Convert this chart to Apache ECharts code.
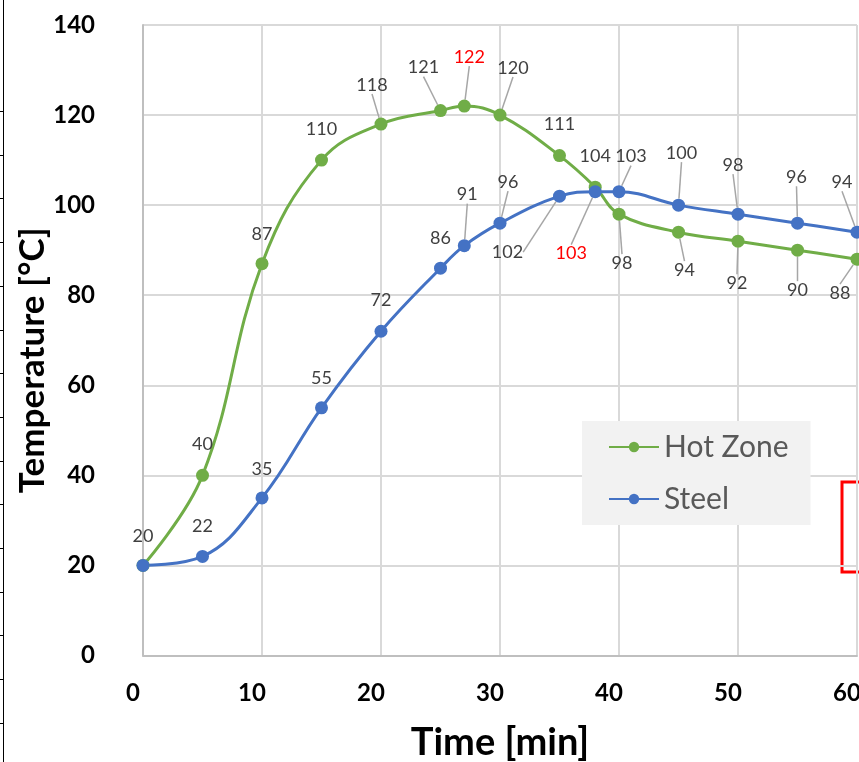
<!DOCTYPE html>
<html lang="en">
<head>
    <meta charset="UTF-8">
    <script src="https://cdn.jsdelivr.net/npm/echarts@6.0.0/dist/echarts.min.js"></script>
    <title>Temperature</title>
    <style>
        html, body { margin: 0; padding: 0; background: #fff; }
    </style>
</head>
<body>
    <div id="chart" style="width: 859px;height:762px;"></div>
    <script>
        // data
        var times = [0, 5, 10, 15, 20, 25, 27, 30, 35, 38, 40, 45, 50, 55, 60];
        var hotZone = [20, 40, 87, 110, 118, 121, 122, 120, 111, 104, 98, 94, 92, 90, 88];
        var steel = [20, 22, 35, 55, 72, 86, 91, 96, 102, 103, 103, 100, 98, 96, 94];
        var xTicks = [0, 10, 20, 30, 40, 50, 60];
        var yTicks = [0, 20, 40, 60, 80, 100, 120, 140];

        // where each value label sits relative to its point [dx, dy, leader line]
        var hotLabelPos = [
            [0, -29, 0], [0, -31, 0], [0, -30, 0], [0, -31, 0], [-9, -39, 1],
            [-17, -43, 1], [5, -49, 1], [13, -47, 1], [0, -31, 0], [0, -31, 0],
            [3, 49, 1], [6, 38, 1], [-1, 42, 1], [0, 40, 1], [-17, 34, 1]
        ];
        var steelLabelPos = [
            null, [0, -30, 0], [0, -29, 0], [0, -30, 0], [0, -31, 0],
            [0, -30, 0], [3, -51, 1], [8, -41, 1], [-52, 56, 1], [-24, 62, 1],
            [12, -35, 1], [3, -52, 1], [-5, -49, 1], [-1, -46, 1], [-15, -50, 1]
        ];
        var hotRed = 6;    // 122
        var steelRed = 9;  // 103

        var font = 'Lato, "Open Sans", sans-serif';

        function buildData(values, pos, redIndex) {
            var out = [];
            for (var i = 0; i < values.length; i++) {
                var p = pos[i];
                out.push({
                    value: [times[i], values[i]],
                    label: {
                        show: p !== null,
                        color: i === redIndex ? '#ff0000' : '#404040'
                    },
                    labelLine: { show: !!(p && p[2]) }
                });
            }
            return out;
        }

        function layoutFor(pos) {
            return function (params) {
                var p = pos[params.dataIndex];
                if (!p) return {};
                return { dx: p[0], dy: p[1] };
            };
        }

        var chart = echarts.init(document.getElementById('chart'));

        function makeSeries(name, values, pos, redIndex, color) {
            return {
                name: name,
                type: 'line',
                smooth: 0.4,
                symbol: 'circle',
                symbolSize: 13,
                lineStyle: { color: color, width: 3 },
                itemStyle: { color: color },
                label: {
                    show: true,
                    position: 'inside',
                    fontFamily: font,
                    fontSize: 18,
                    color: '#404040',
                    formatter: function (p) { return p.value[1]; }
                },
                labelLine: {
                    show: false,
                    lineStyle: { color: '#a6a6a6', width: 1.5 }
                },
                labelLayout: layoutFor(pos),
                data: buildData(values, pos, redIndex),
                z: 3
            };
        }

        // edge of the neighbouring ruler and the red box cut off at the right
        var decor = [
            { type: 'line', shape: { x1: 3.5, y1: 0, x2: 3.5, y2: 762 }, style: { stroke: '#000', lineWidth: 1 } },
            { type: 'rect', shape: { x: 842, y: 482, width: 40, height: 90 }, style: { fill: 'none', stroke: '#ff0000', lineWidth: 3 } }
        ];
        for (var k = 0; k < 15; k++) {
            var ty = Math.round(111 + k * 43.7) + 0.5;
            decor.push({ type: 'line', shape: { x1: 0, y1: ty, x2: 4, y2: ty }, style: { stroke: '#000', lineWidth: 1 } });
        }

        var option = {
            backgroundColor: '#ffffff',
            animation: false,
            grid: { left: 143, right: 2, top: 25, bottom: 106.5, containLabel: false, outerBoundsMode: 'none' },
            xAxis: {
                type: 'value',
                min: xTicks[0],
                max: xTicks[xTicks.length - 1],
                interval: 10,
                name: 'Time [min]',
                nameLocation: 'middle',
                nameGap: 68,
                nameMoveOverlap: false,
                nameTextStyle: { fontFamily: font, fontWeight: 'bold', fontSize: 38, color: '#000' },
                axisLine: { lineStyle: { color: '#bfbfbf', width: 2 } },
                axisTick: { show: false },
                axisLabel: {
                    margin: 26,
                    padding: [0, 20, 0, 0],
                    fontFamily: font, fontWeight: 'bold', fontSize: 24, color: '#000'
                },
                splitLine: { show: true, lineStyle: { color: '#d9d9d9', width: 2 } }
            },
            yAxis: {
                type: 'value',
                min: yTicks[0],
                max: yTicks[yTicks.length - 1],
                interval: 20,
                name: 'Temperature [°C]',
                nameLocation: 'middle',
                nameGap: 93,
                nameMoveOverlap: false,
                nameTextStyle: {
                    fontFamily: font, fontWeight: 'bold', fontSize: 35, color: '#000',
                    padding: [0, 40, 0, 0]
                },
                axisLine: { show: true, lineStyle: { color: '#bfbfbf', width: 2 } },
                axisTick: { show: false },
                axisLabel: { margin: 48, fontFamily: font, fontWeight: 'bold', fontSize: 24, color: '#000' },
                splitLine: { show: true, lineStyle: { color: '#d9d9d9', width: 2 } }
            },
            legend: {
                orient: 'vertical',
                left: 582,
                top: 421,
                backgroundColor: '#f2f2f2',
                padding: [11, 22, 11, 26],
                itemGap: 22,
                itemWidth: 50,
                itemHeight: 13,
                textStyle: { fontFamily: font, fontSize: 30, color: '#595959', lineHeight: 30 },
                data: ['Hot Zone', 'Steel']
            },
            graphic: decor,
            series: [
                makeSeries('Hot Zone', hotZone, hotLabelPos, hotRed, '#70ad47'),
                makeSeries('Steel', steel, steelLabelPos, steelRed, '#4472c4')
            ]
        };

        chart.setOption(option);
    </script>
</body>
</html>
